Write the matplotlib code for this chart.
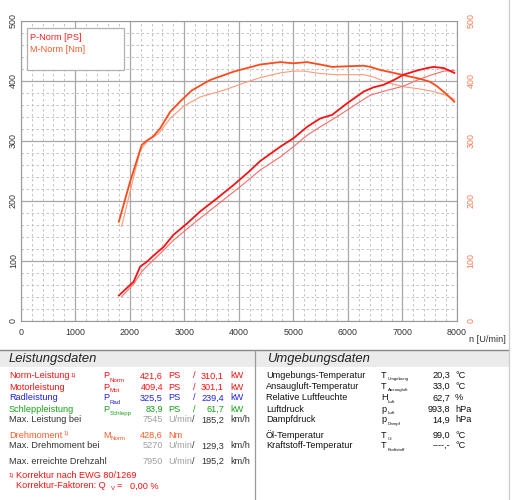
import matplotlib.pyplot as plt
from matplotlib.patches import Rectangle
from matplotlib.lines import Line2D

W, H = 513, 500

# curves
rpm_p_norm = [1800, 2070, 2190, 2310, 2430, 2620, 2800, 3050, 3290, 3600, 3900, 4180, 4390,
              4760, 5000, 5250, 5490, 5710, 5980, 6290, 6470, 6650, 6840, 7020, 7270, 7450,
              7570, 7760, 7950]
p_norm = [42, 65, 90, 98, 108, 123, 143, 162, 182, 204, 226, 248, 266,
          290, 304, 323, 337, 343, 362, 382, 389, 393, 401, 410, 417, 421,
          423, 421, 413]

rpm_p_mot = [1850, 2070, 2220, 2340, 2560, 2800, 3170, 3600, 4020, 4390, 4760, 5000, 5250,
             5490, 5800, 6170, 6410, 6720, 7020, 7270, 7510, 7760, 7950]
p_mot = [40, 61, 82, 93, 112, 134, 162, 193, 223, 251, 273, 290, 309,
         323, 340, 362, 376, 384, 391, 401, 409, 416, 417]

rpm_m_norm = [1800, 2000, 2220, 2310, 2430, 2560, 2740, 2920, 3140, 3470, 3900, 4270, 4390,
              4760, 5000, 5250, 5490, 5710, 5980, 6290, 6410, 6590, 6840, 7080, 7330, 7510,
              7630, 7790, 7950]
m_norm = [165, 230, 293, 300, 307, 321, 348, 365, 384, 401, 415, 424, 427,
          431, 429, 431, 427, 423, 424, 425, 423, 418, 413, 408, 403, 398,
          391, 379, 365]

rpm_m_mot = [1850, 2190, 2340, 2530, 2740, 2980, 3290, 3720, 4150, 4390, 4760, 5000, 5190,
             5490, 5800, 6290, 6470, 6720, 7020, 7330, 7570, 7820, 7950]
m_mot = [157, 284, 301, 312, 337, 357, 373, 384, 398, 405, 413, 416, 416,
         412, 410, 410, 406, 397, 390, 386, 382, 375, 369]

x_ticks = [0, 1000, 2000, 3000, 4000, 5000, 6000, 7000, 8000]
y_ticks = [0, 100, 200, 300, 400, 500]

# table contents
left_rows = [
    ("Norm-Leistung", "Norm", "421,6", "310,1", "#ff1010"),
    ("Motorleistung", "Mot", "409,4", "301,1", "#ff1010"),
    ("Radleistung", "Rad", "325,5", "239,4", "#2020f0"),
    ("Schleppleistung", "Schlepp", "83,9", "61,7", "#18a018"),
]
right_labels = ["Umgebungs-Temperatur", "Ansaugluft-Temperatur", "Relative Luftfeuchte",
                "Luftdruck", "Dampfdruck", "Öl-Temperatur", "Kraftstoff-Temperatur"]
right_syms = [("T", "Umgebung"), ("T", "Ansaugluft"), ("H", "Luft"), ("p", "Luft"),
              ("p", "Dampf"), ("T", "Öl"), ("T", "Kraftstoff")]
right_vals = ["20,3", "33,0", "62,7", "993,8", "14,9", "99,0", "----,-"]
right_units = ["°C", "°C", "%", "hPa", "hPa", "°C", "°C"]

plt.rcParams['font.family'] = ['Liberation Sans', 'DejaVu Sans']

fig = plt.figure(figsize=(W / 100, H / 100), dpi=100)

FS = 6.6


def px(x, y):
    return x / W, 1 - y / H


def T(x, y, s, size=FS, **kw):
    kw.setdefault('va', 'center')
    fig.text(*px(x, y), s, fontsize=size, **kw)


def sym(x, y, main, sub, color, sub_size=4.4, dx=6.5):
    T(x, y, main, color=color)
    T(x + dx, y + 4, sub, size=sub_size, color=color)


ax = fig.add_axes([20.7 / W, 1 - 320.7 / H, 436.3 / W, 300 / H])
ax.set_xlim(0, 8000)
ax.set_ylim(0, 500)
ax.set_xticks(x_ticks)
ax.set_yticks(y_ticks)
ax.set_xticks(range(0, 8001, 200), minor=True)
ax.set_yticks(range(0, 501, 20), minor=True)
ax.grid(which='major', color='#a8a8a8', lw=0.9, ls='-')
ax.grid(which='minor', color='#bcbcbc', lw=0.6, ls=(0, (3, 3)))
ax.tick_params(which='both', length=0)
ax.tick_params(axis='x', labelsize=6.4, colors='#333333', pad=5)
ax.tick_params(axis='y', labelsize=6.4, colors='#333333', pad=2, labelrotation=90)
for lab in ax.get_yticklabels():
    lab.set_va('center')
for s in ax.spines.values():
    s.set_color('#999999')
    s.set_linewidth(0.8)

ax2 = ax.twinx()
ax2.set_ylim(0, 500)
ax2.set_yticks(y_ticks)
ax2.tick_params(length=0, labelsize=6.4, colors='#ff7a50', pad=7, labelrotation=90)
for lab in ax2.get_yticklabels():
    lab.set_va('center')
for s in ax2.spines.values():
    s.set_visible(False)

ax.plot(rpm_m_mot, m_mot, color='#ff9a7a', lw=0.8)
ax.plot(rpm_p_mot, p_mot, color='#ff6a6a', lw=0.8)
ax.plot(rpm_m_norm, m_norm, color='#ff4a1a', lw=1.3)
ax.plot(rpm_p_norm, p_norm, color='#ff1010', lw=1.3)

# legend box
fig.patches.append(Rectangle(px(27, 70), 97 / W, 42 / H, transform=fig.transFigure,
                             facecolor='white', edgecolor='#b0b0b0', lw=0.9, zorder=5))
T(30, 38, "P-Norm [PS]", color='#ff2020', zorder=6)
T(30, 49, "M-Norm [Nm]", color='#ff5a28', zorder=6)

T(469, 339, "n [U/min]", color='#333333')

# table frame
fig.patches.append(Rectangle(px(0, 367), 509 / W, 17 / H, transform=fig.transFigure,
                             facecolor='#ebebeb', edgecolor='none'))
fig.lines.append(Line2D([0, 509 / W], [1 - 350 / H] * 2, transform=fig.transFigure,
                        color='#888888', lw=1))
fig.lines.append(Line2D([255 / W] * 2, [0, 1 - 350 / H], transform=fig.transFigure,
                        color='#999999', lw=0.9))
fig.lines.append(Line2D([509 / W] * 2, [0, 1], transform=fig.transFigure,
                        color='#cccccc', lw=0.9))
T(9, 359, "Leistungsdaten", size=9.4, style='italic', color='#222222')
T(267, 359, "Umgebungsdaten", size=9.4, style='italic', color='#222222')

dark = '#333333'
grey = '#a0a0a0'
row_y = [376, 387, 398, 409]
for (label, sub, ps, kw, c), y in zip(left_rows, row_y):
    T(9, y, label, color=c)
    sym(103, y, "P", sub, c)
    T(163, y, ps, color=c, ha='right')
    T(168, y, "PS", color=c)
    T(193, y, "/", color=c)
    T(224, y, kw, color=c, ha='right')
    T(230, y, "kW", color=c)
T(71, 375, "1)", size=4.3, color='#ff1010')

T(9, 420, "Max. Leistung bei", color=dark)
T(163, 420, "7545", color=grey, ha='right')
T(168, 420, "U/min", color=grey)
T(192, 420, "/", color=dark)
T(224, 420, "185,2", color=dark, ha='right')
T(230, 420, "km/h", color=dark)

orange = '#ff5a28'
T(9, 435, "Drehmoment", color=orange)
T(64, 434, "1)", size=4.3, color=orange)
sym(103, 435, "M", "Norm", orange, dx=7.5)
T(163, 435, "428,6", color=orange, ha='right')
T(168, 435, "Nm", color=orange)

T(9, 446, "Max. Drehmoment bei", color=dark)
T(163, 446, "5270", color=grey, ha='right')
T(168, 446, "U/min", color=grey)
T(192, 446, "/", color=dark)
T(224, 446, "129,3", color=dark, ha='right')
T(230, 446, "km/h", color=dark)

T(9, 461, "Max. erreichte Drehzahl", color=dark)
T(163, 461, "7950", color=grey, ha='right')
T(168, 461, "U/min", color=grey)
T(192, 461, "/", color=dark)
T(224, 461, "195,2", color=dark, ha='right')
T(230, 461, "km/h", color=dark)

T(9, 475, "1)", size=4.3, color='#ff1010')
T(16, 476, "Korrektur nach EWG 80/1269", color='#ff1010')
T(16, 486, "Korrektur-Faktoren: Q", color='#ff1010')
T(111, 489, "V", size=4.3, color='#ff1010')
T(117, 486, "=", color='#ff1010')
T(130, 486, "0,00 %", color='#ff1010')

right_y = [375, 386.5, 398, 409, 420, 435, 446]
for lab, (m, sb), v, u, y in zip(right_labels, right_syms, right_vals, right_units, right_y):
    T(266, y, lab, color='#111111')
    sym(381, y, m, sb, '#111111', sub_size=3.2, dx=6.5)
    T(450, y, v, color='#111111', ha='right')
    T(455, y, u, color='#111111')

fig.savefig('out.png', dpi=100)
